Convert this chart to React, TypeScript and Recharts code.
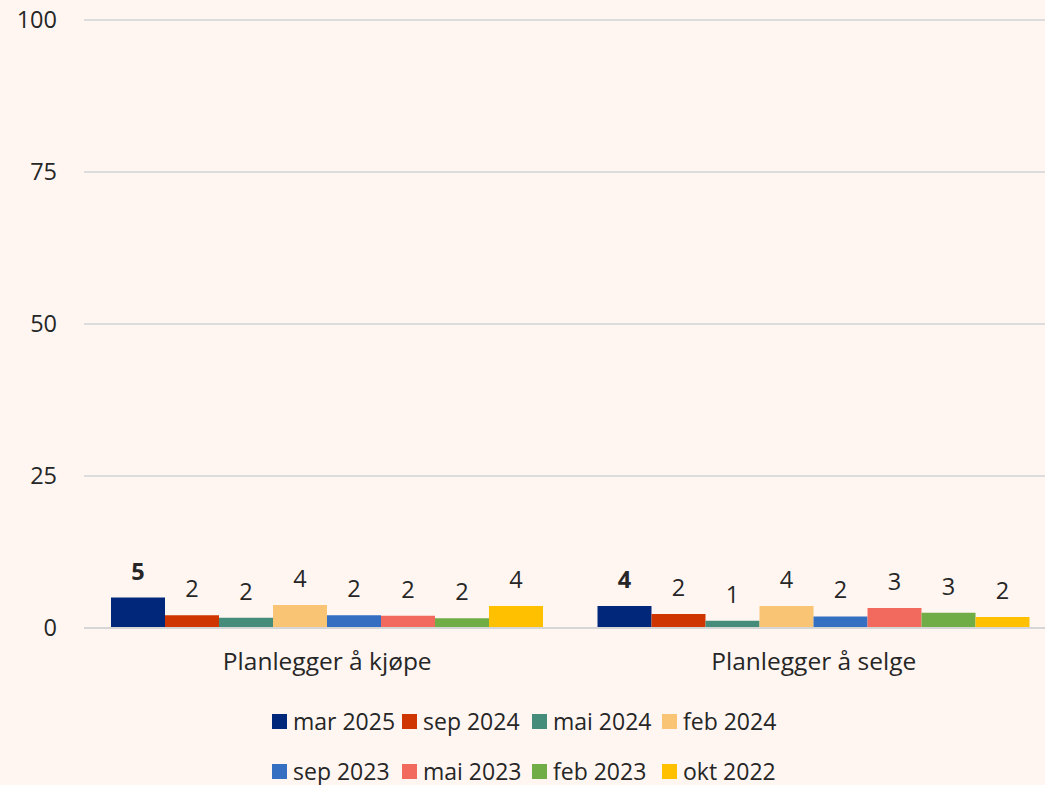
import { BarChart, Bar, XAxis, YAxis, CartesianGrid, LabelList } from "recharts";

const categories = ["Planlegger å kjøpe", "Planlegger å selge"];
const seriesNames = [
  "mar 2025",
  "sep 2024",
  "mai 2024",
  "feb 2024",
  "sep 2023",
  "mai 2023",
  "feb 2023",
  "okt 2022",
];
const mar2025 = [5.0, 3.6];
const sep2024 = [2.1, 2.3];
const mai2024 = [1.7, 1.2];
const feb2024 = [3.8, 3.6];
const sep2023 = [2.1, 1.9];
const mai2023 = [2.0, 3.3];
const feb2023 = [1.6, 2.5];
const okt2022 = [3.6, 1.8];
const yTicks = [0, 25, 50, 75, 100];

const seriesValues = [mar2025, sep2024, mai2024, feb2024, sep2023, mai2023, feb2023, okt2022];
const colors = [
  "#00277a",
  "#cf3500",
  "#468c7a",
  "#f9c474",
  "#346fc2",
  "#f26a5e",
  "#70ad47",
  "#ffc000",
];

const data = categories.map((name, i) => {
  const row: Record<string, string | number> = { name };
  seriesNames.forEach((s, j) => {
    row[s] = seriesValues[j][i];
  });
  return row;
});

const font = "'Open Sans', sans-serif";
const textColor = "#262626";

function LegendRows() {
  const rows = [seriesNames.slice(0, 4), seriesNames.slice(4)];
  return (
    <div style={{ position: "absolute", left: 272, top: 705, fontFamily: font, fontSize: 23, color: textColor }}>
      {rows.map((row, r) => (
        <div key={r} style={{ display: "flex", height: 50 }}>
          {row.map((name) => {
            const idx = seriesNames.indexOf(name);
            return (
              <div key={name} style={{ width: 130, display: "flex", alignItems: "center", height: 32 }}>
                <span style={{ width: 15, height: 15, background: colors[idx], marginRight: 6, flexShrink: 0 }} />
                <span style={{ whiteSpace: "nowrap" }}>{name}</span>
              </div>
            );
          })}
        </div>
      ))}
    </div>
  );
}

export default function App() {
  return (
    <div
      style={{
        position: "absolute",
        left: 0,
        top: 0,
        width: 1045,
        height: 785,
        overflow: "hidden",
        background: "#fff6f2",
      }}
    >
      <BarChart
        width={1057}
        height={690}
        data={data}
        margin={{ top: 20, right: 0, left: 0, bottom: 0 }}
        barCategoryGap={27}
        barGap={0}
      >
        <CartesianGrid vertical={false} stroke="#dcdcdc" strokeWidth={2} />
        <XAxis
          dataKey="name"
          height={62}
          tickSize={0}
          tickMargin={25}
          axisLine={{ stroke: "#d6d6d6", strokeWidth: 2 }}
          tick={{ fill: textColor, fontSize: 24.5, fontFamily: font }}
        />
        <YAxis
          width={84}
          domain={[0, 100]}
          ticks={yTicks}
          tickSize={0}
          tickMargin={27}
          axisLine={false}
          tick={{ fill: textColor, fontSize: 23.5, fontFamily: font }}
        />
        {seriesNames.map((s, i) => (
          <Bar key={s} dataKey={s} fill={colors[i]} isAnimationActive={false}>
            <LabelList
              dataKey={s}
              position="top"
              offset={18}
              formatter={(v: any) => Math.round(Number(v))}
              style={{
                fill: textColor,
                fontSize: 23.5,
                fontFamily: font,
                fontWeight: i === 0 ? 700 : 400,
              }}
            />
          </Bar>
        ))}
      </BarChart>
      <LegendRows />
    </div>
  );
}
